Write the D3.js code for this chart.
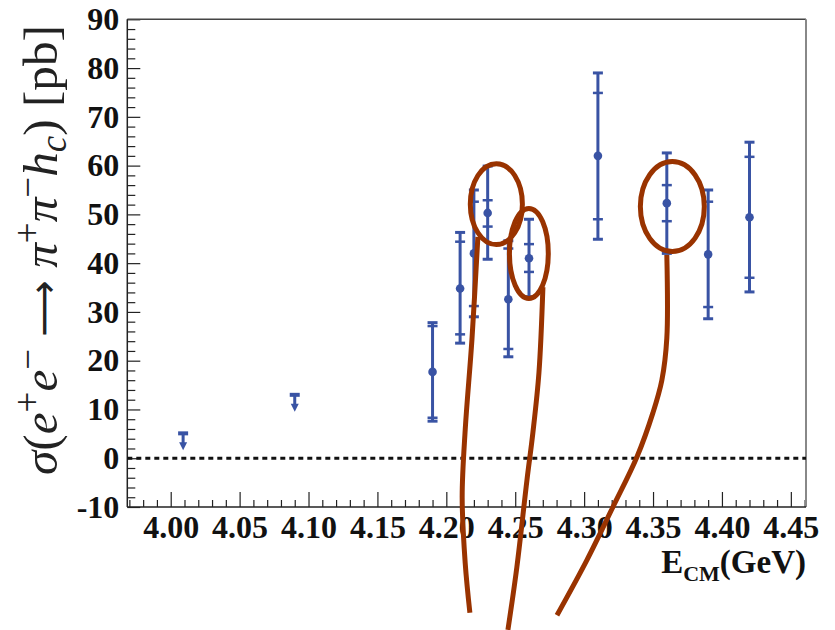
<!DOCTYPE html>
<html>
<head>
<meta charset="utf-8">
<script src="https://cdn.jsdelivr.net/npm/d3@7"></script>
<style>
  body { margin: 0; background: #fff; }
  svg { display: block; }
  .serif { font-family: "Liberation Serif", "DejaVu Serif", serif; }
</style>
</head>
<body>
<div id="chart"></div>
<script>
// energies (GeV) of the measured points
const energies = [4.190, 4.210, 4.220, 4.230, 4.245, 4.260, 4.310, 4.360, 4.390, 4.420];
const xsec     = [17.7, 34.8, 42.0, 50.3, 32.6, 41.0, 62.0, 52.3, 41.8, 49.4];
// total error band (low / high edge)
const totLow   = [7.6, 23.6, 29.0, 40.8, 20.8, 33.1, 44.9, 42.0, 28.6, 34.1];
const totHigh  = [27.8, 46.3, 55.0, 59.9, 44.6, 49.0, 79.0, 62.6, 55.0, 64.8];
// statistical error (low / high edge)
const statLow  = [8.3, 25.4, 31.2, 47.5, 22.4, 38.2, 49.0, 48.6, 31.0, 37.0];
const statHigh = [27.1, 44.4, 52.6, 52.9, 43.0, 43.9, 74.9, 56.0, 52.6, 61.8];

// upper limits
const ulEnergies = [4.009, 4.090];
const ulValues   = [5.1, 13.0];

const xTicks = [4.00, 4.05, 4.10, 4.15, 4.20, 4.25, 4.30, 4.35, 4.40, 4.45];
const yTicks = [-10, 0, 10, 20, 30, 40, 50, 60, 70, 80, 90];

// hand drawn annotations, in data units (energy, pb)
const circleCenterE = [4.2363, 4.2599, 4.3640];
const circleCenterV = [52.1, 42.0, 51.6];
const circleHalfE   = [0.0189, 0.0141, 0.0232];
const circleHalfV   = [8.3, 9.23, 9.23];
const strokeE = [
  [4.2229, 4.2186, 4.2137, 4.2115, 4.2137, 4.2171],
  [4.2701, 4.2672, 4.2628, 4.2585, 4.2512, 4.2447],
  [4.3600, 4.3600, 4.3564, 4.3499, 4.3383, 4.3209, 4.3020, 4.2803]
];
const strokeV = [
  [45.4, 24.4, 5.8, -8.0, -21.5, -31.7],
  [35.1, 17.5, 5.2, -4.5, -22.3, -35.2],
  [41.7, 24.6, 16.0, 9.3, 0.25, -10.0, -20.9, -32.2]
];

const W = 835, H = 630;
const padL = 127.3, padR = 806, padT = 19.3, padB = 507;
const blue = '#3953a4';
const brown = '#993300';

const svg = d3.select('#chart').append('svg')
  .attr('width', W)
  .attr('height', H);

const x = d3.scaleLinear().domain([3.9685, 4.461]).range([padL, padR]);
const y = d3.scaleLinear().domain([-10, 90]).range([padB, padT]);

// minor ticks
const xMinor = d3.range(3.97, 4.461, 0.01).filter(v => Math.abs(Math.round(v * 20) - v * 20) > 0.01);
const yMinor = d3.range(-10, 90.1, 2).filter(v => v % 10 !== 0);

svg.append('g')
  .attr('transform', `translate(0,${padB})`)
  .call(d3.axisBottom(x).tickValues(xMinor).tickSize(-7).tickFormat(''))
  .call(g => g.select('.domain').remove());

svg.append('g')
  .attr('transform', `translate(${padL},0)`)
  .call(d3.axisLeft(y).tickValues(yMinor).tickSize(-8).tickFormat(''))
  .call(g => g.select('.domain').remove());

// major ticks + labels
const xAxis = svg.append('g')
  .attr('transform', `translate(0,${padB})`)
  .call(d3.axisBottom(x).tickValues(xTicks).tickSize(-15).tickPadding(8).tickFormat(d3.format('.2f')));
xAxis.select('.domain').remove();

const yAxis = svg.append('g')
  .attr('transform', `translate(${padL},0)`)
  .call(d3.axisLeft(y).tickValues(yTicks).tickSize(-13).tickPadding(8).tickFormat(d => String(d)));
yAxis.select('.domain').remove();

[xAxis, yAxis].forEach(a => a.selectAll('text')
  .style('font-family', '"Liberation Serif", "DejaVu Serif", serif')
  .style('font-weight', 'bold')
  .style('font-size', '32px')
  .attr('fill', '#111'));

svg.selectAll('.tick line').attr('stroke', '#222').attr('stroke-width', 1.2);

// frame
svg.append('line').attr('x1', padL).attr('x2', padR).attr('y1', padT).attr('y2', padT)
  .attr('stroke', '#444').attr('stroke-width', 1.5);
svg.append('line').attr('x1', padR).attr('x2', padR).attr('y1', padT).attr('y2', padB)
  .attr('stroke', '#888').attr('stroke-width', 2);
svg.append('line').attr('x1', padL).attr('x2', padR).attr('y1', padB).attr('y2', padB)
  .attr('stroke', '#222').attr('stroke-width', 1.5);
svg.append('line').attr('x1', padL).attr('x2', padL).attr('y1', padT).attr('y2', padB)
  .attr('stroke', '#222').attr('stroke-width', 1.5);

// zero line
svg.append('line')
  .attr('x1', x.range()[0]).attr('x2', x.range()[1])
  .attr('y1', y(0)).attr('y2', y(0))
  .attr('stroke', '#111')
  .attr('stroke-width', 3)
  .attr('stroke-dasharray', '5,4');

// error bars
const pts = energies.map((e, i) => ({
  e, v: xsec[i], tl: totLow[i], th: totHigh[i], sl: statLow[i], sh: statHigh[i]
}));

const bars = svg.append('g').attr('stroke', blue).attr('fill', blue);

bars.selectAll('.err').data(pts).enter().append('line')
  .attr('x1', d => x(d.e)).attr('x2', d => x(d.e))
  .attr('y1', d => y(d.th)).attr('y2', d => y(d.tl))
  .attr('stroke-width', 3);

const capW = 5;
[['th', 3], ['tl', 3], ['sh', 2.5], ['sl', 2.5]].forEach(([k, sw]) => {
  bars.selectAll('.cap-' + k).data(pts).enter().append('line')
    .attr('x1', d => x(d.e) - capW).attr('x2', d => x(d.e) + capW)
    .attr('y1', d => y(d[k])).attr('y2', d => y(d[k]))
    .attr('stroke-width', sw);
});

bars.selectAll('.dot').data(pts).enter().append('circle')
  .attr('cx', d => x(d.e))
  .attr('cy', d => y(d.v))
  .attr('r', 4.3)
  .attr('stroke', 'none');

// upper limit arrows
const uls = ulEnergies.map((e, i) => ({ e, v: ulValues[i] }));
const ul = svg.append('g').selectAll('g').data(uls).enter().append('g')
  .attr('transform', d => `translate(${x(d.e)},${y(d.v)})`);
ul.append('rect').attr('x', -5).attr('y', -2).attr('width', 10).attr('height', 4).attr('fill', blue);
ul.append('line').attr('x1', 0).attr('x2', 0).attr('y1', 0).attr('y2', 11)
  .attr('stroke', blue).attr('stroke-width', 3);
ul.append('path').attr('d', 'M-4,9 L4,9 L0,17 Z').attr('fill', blue);

// axis titles
const xt = svg.append('text')
  .attr('x', padR)
  .attr('y', 573)
  .attr('text-anchor', 'end')
  .attr('class', 'serif')
  .style('font-weight', 'bold')
  .style('font-size', '33px')
  .attr('fill', '#111');
xt.append('tspan').text('E');
xt.append('tspan').style('font-size', '22px').attr('dy', 8).text('CM');
xt.append('tspan').attr('dy', -8).text('(GeV)');

const yt = svg.append('text')
  .attr('transform', 'translate(57,250) rotate(-90)')
  .attr('text-anchor', 'middle')
  .attr('class', 'serif')
  .style('font-size', '40px')
  .attr('fill', '#222');
const parts = [
  ['σ', 'italic', null], ['(', 'normal', null], ['e', 'italic', null], ['+', 'normal', 'sup'],
  ['e', 'italic', null], ['−', 'normal', 'sup'], [' ', 'normal', null], ['⟶', 'normal', 'arrow'],
  [' ', 'normal', null],
  ['π', 'italic', null], ['+', 'normal', 'sup'], ['π', 'italic', null], ['−', 'normal', 'sup'],
  ['h', 'italic', null], ['c', 'italic', 'sub'], [')', 'normal', null], ['  [pb]', 'normal', null]
];
parts.forEach(([t, st, pos]) => {
  const s = yt.append('tspan').style('font-style', st).text(t);
  if (pos === 'sup') s.attr('baseline-shift', '45%').style('font-size', '0.75em');
  if (pos === 'sub') s.attr('baseline-shift', '-25%').style('font-size', '0.75em');
  if (pos === 'arrow') s.style('font-family', '"DejaVu Sans", sans-serif').style('font-size', '0.8em');
});
// stretch the title to the length it has in the reference
const len = yt.node().getComputedTextLength();
if (len > 0) yt.style('font-size', (40 * 450 / len) + 'px');

// annotations: circles and strokes
const ann = svg.append('g')
  .attr('fill', 'none')
  .attr('stroke', brown)
  .attr('stroke-width', 5);

ann.selectAll('ellipse').data(circleCenterE).enter().append('ellipse')
  .attr('cx', (d, i) => x(d))
  .attr('cy', (d, i) => y(circleCenterV[i]))
  .attr('rx', (d, i) => x(d + circleHalfE[i]) - x(d))
  .attr('ry', (d, i) => y(circleCenterV[i] - circleHalfV[i]) - y(circleCenterV[i]));

const strokeLine = d3.line()
  .x(d => x(d[0]))
  .y(d => y(d[1]))
  .curve(d3.curveCatmullRom);

strokeE.forEach((es, k) => {
  ann.append('path')
    .attr('d', strokeLine(es.map((e, i) => [e, strokeV[k][i]])))
    .attr('stroke-linecap', 'butt');
});
</script>
</body>
</html>
